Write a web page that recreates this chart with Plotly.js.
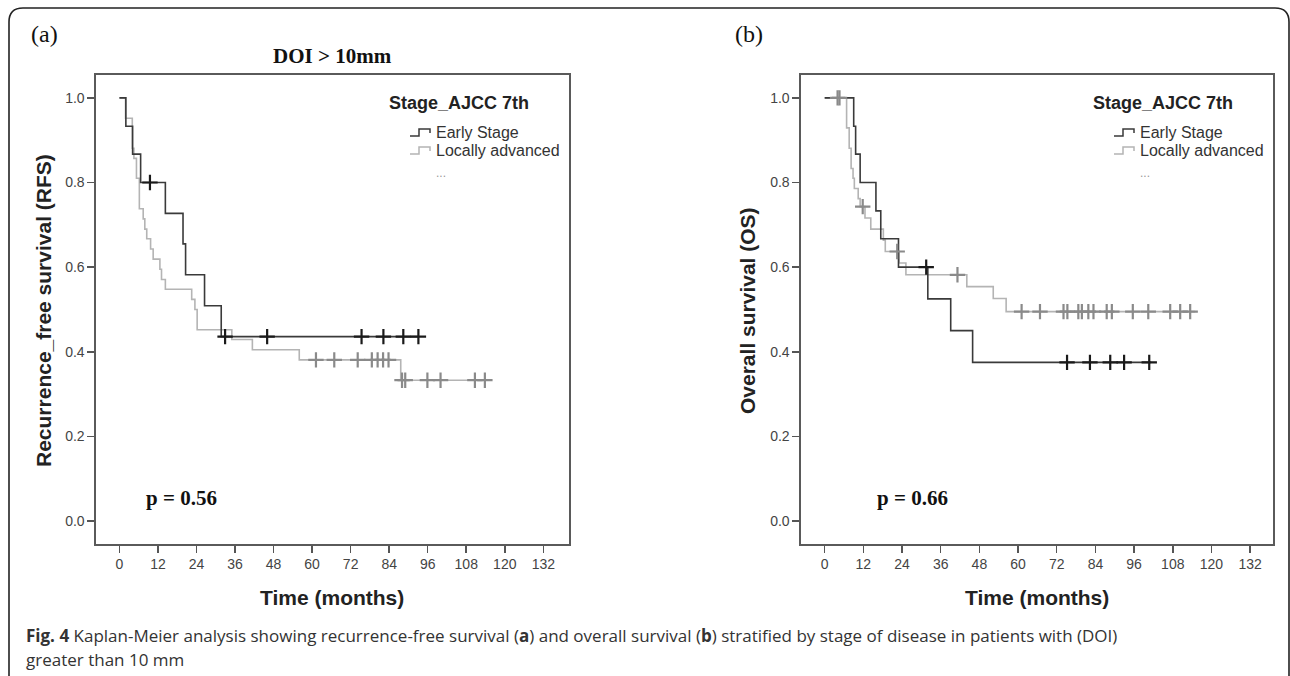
<!DOCTYPE html>
<html>
<head>
<meta charset="utf-8">
<script src="https://cdn.plot.ly/plotly-3.0.1.min.js"></script>
<style>html,body{margin:0;padding:0;background:#fff;}#chart{width:1290px;height:676px;}</style>
</head>
<body>
<div id="chart"></div>
<script>
// ---------- DATA ----------
// (a) Recurrence-free survival
const rfsEarlyTime   = [0, 2.0, 4.1, 6.6, 14.3, 19.8, 20.6, 26.5, 31.7];
const rfsEarlySurv   = [1.0, 0.933, 0.867, 0.800, 0.727, 0.655, 0.582, 0.509, 0.436];
const rfsEarlyEnd    = 93.3;
const rfsEarlyCens   = [9.5, 32.9, 46.0, 75.4, 82.2, 88.4, 93.1];

const rfsLocalTime   = [0, 1.9, 4.0, 4.5, 5.3, 6.2, 7.4, 7.9, 8.5, 9.7, 10.5, 12.6, 13.1, 14.3, 22.5, 23.5, 24.2, 35.0, 41.4, 56.0, 87.6];
const rfsLocalSurv   = [1.0, 0.952, 0.881, 0.857, 0.810, 0.738, 0.714, 0.690, 0.667, 0.643, 0.619, 0.595, 0.571, 0.548, 0.524, 0.500, 0.452, 0.429, 0.405, 0.381, 0.333];
const rfsLocalEnd    = 115.0;
const rfsLocalCens   = [61.2, 66.9, 74.2, 78.6, 80.4, 82.1, 83.8, 88.0, 89.0, 95.9, 100.0, 110.7, 113.8];

// (b) Overall survival
const osEarlyTime    = [0, 9.0, 9.6, 11.0, 15.9, 17.4, 22.9, 32.0, 39.1, 45.9];
const osEarlySurv    = [1.0, 0.933, 0.867, 0.800, 0.733, 0.667, 0.600, 0.525, 0.450, 0.375];
const osEarlyEnd     = 101.3;
const osEarlyCens    = [31.5, 75.2, 82.3, 88.6, 92.9, 100.7];

const osLocalTime    = [0, 6.8, 7.6, 8.2, 8.8, 9.2, 10.4, 11.0, 12.5, 14.3, 18.2, 18.8, 23.1, 25.2, 44.1, 52.3, 56.3];
const osLocalSurv    = [1.0, 0.929, 0.881, 0.833, 0.810, 0.786, 0.762, 0.743, 0.716, 0.690, 0.664, 0.637, 0.610, 0.582, 0.554, 0.526, 0.495];
const osLocalEnd     = 114.9;
const osLocalCens    = [4.0, 4.6, 11.8, 22.5, 41.2, 61.1, 66.8, 74.1, 75.3, 78.7, 79.8, 81.8, 83.4, 87.5, 89.1, 95.6, 100.4, 107.2, 110.3, 113.4];

const xTickVals   = [0, 12, 24, 36, 48, 60, 72, 84, 96, 108, 120, 132];
const yTickVals   = [0.0, 0.2, 0.4, 0.6, 0.8, 1.0];
const groupNames  = ["Early Stage", "Locally advanced"];
const legendTitle = "Stage_AJCC 7th";
const panelLabels = ["(a)", "(b)"];
const pValues     = ["p = 0.56", "p = 0.66"];
const yTitles     = ["Recurrence_free survival (RFS)", "Overall survival (OS)"];
const xTitle      = "Time (months)";
const topTitle    = "DOI > 10mm";

// ---------- helpers ----------
const W = 1290, H = 676;
const px = v => v / W;
const py = v => 1 - v / H;
function survAt(times, surv, t) {
  let s = surv[0];
  for (let i = 0; i < times.length; i++) if (times[i] <= t) s = surv[i];
  return s;
}
const darkLine = '#3a3a3a', lightLine = '#b4b4b4';
const darkCens = '#1a1a1a', lightCens = '#8a8a8a';

function stepTrace(t, s, end, color, xa, ya) {
  return {x: t.concat([end]), y: s.concat([s[s.length-1]]), type: 'scatter', mode: 'lines',
          line: {shape: 'hv', color: color, width: 1.6}, xaxis: xa, yaxis: ya, hoverinfo: 'skip', showlegend: false};
}
function censTrace(c, t, s, color, xa, ya) {
  return {x: c, y: c.map(v => survAt(t, s, v)), type: 'scatter', mode: 'markers',
          marker: {symbol: 'cross-thin', size: 11, line: {width: 2.2, color: color}, color: color},
          xaxis: xa, yaxis: ya, hoverinfo: 'skip', showlegend: false};
}

const data = [
  stepTrace(rfsLocalTime, rfsLocalSurv, rfsLocalEnd, lightLine, 'x', 'y'),
  stepTrace(rfsEarlyTime, rfsEarlySurv, rfsEarlyEnd, darkLine, 'x', 'y'),
  censTrace(rfsLocalCens, rfsLocalTime, rfsLocalSurv, lightCens, 'x', 'y'),
  censTrace(rfsEarlyCens, rfsEarlyTime, rfsEarlySurv, darkCens, 'x', 'y'),
  stepTrace(osLocalTime, osLocalSurv, osLocalEnd, lightLine, 'x2', 'y2'),
  stepTrace(osEarlyTime, osEarlySurv, osEarlyEnd, darkLine, 'x2', 'y2'),
  censTrace(osLocalCens, osLocalTime, osLocalSurv, lightCens, 'x2', 'y2'),
  censTrace(osEarlyCens, osEarlyTime, osEarlySurv, darkCens, 'x2', 'y2')
];

const tickFont = {family: 'Liberation Sans, Arial, sans-serif', size: 14, color: '#444'};
function xAxis(domain, range, anchor) {
  return {domain: domain, range: range, anchor: anchor, tickvals: xTickVals, ticktext: xTickVals.map(String),
          ticks: 'outside', ticklen: 7, tickwidth: 1.5, tickcolor: '#555', showline: true, mirror: true,
          linecolor: '#5a5a5a', linewidth: 1.6, showgrid: false, zeroline: false, tickfont: tickFont, fixedrange: true};
}
function yAxis(range, anchor) {
  return {domain: [py(544), py(75)], range: range, anchor: anchor, tickvals: yTickVals, ticktext: yTickVals.map(v => v.toFixed(1)),
          ticks: 'outside', ticklen: 7, tickwidth: 1.5, tickcolor: '#555', showline: true, mirror: true,
          linecolor: '#5a5a5a', linewidth: 1.6, showgrid: false, zeroline: false, tickfont: tickFont, fixedrange: true};
}

const annotations = [];
const shapes = [];
const panelShift = [0, 704];
const axisTitleFont = {family: 'Liberation Sans, Arial, sans-serif', size: 21, color: '#222'};
const serifBold = {family: 'Liberation Serif, Times New Roman, serif', size: 21, color: '#111'};

function ann(x, y, text, font, extra) {
  annotations.push(Object.assign({xref: 'paper', yref: 'paper', x: px(x), y: py(y), text: text, showarrow: false,
    font: font, xanchor: 'left', yanchor: 'middle'}, extra || {}));
}

for (let k = 0; k < 2; k++) {
  const d = panelShift[k];
  // panel label
  ann(k === 0 ? 29 : 733, 34, panelLabels[k], {family: 'Liberation Serif, Times New Roman, serif', size: 24, color: '#111'});
  // p value
  ann((k === 0 ? 181 : 912), 498, '<b>' + pValues[k] + '</b>', serifBold, {xanchor: 'center'});
  // x title
  ann((k === 0 ? 332 : 1037), 597, '<b>' + xTitle + '</b>', axisTitleFont, {xanchor: 'center'});
  // y title
  ann((k === 0 ? 43 : 747), 311, '<b>' + yTitles[k] + '</b>', axisTitleFont, {xanchor: 'center', textangle: -90});
  // legend
  ann(387 + d, 103, '<b>' + legendTitle + '</b>', {family: 'Liberation Sans, Arial, sans-serif', size: 18, color: '#222'});
  ann(434 + d, 133, groupNames[0], {family: 'Liberation Sans, Arial, sans-serif', size: 16, color: '#333'});
  ann(434 + d, 151, groupNames[1], {family: 'Liberation Sans, Arial, sans-serif', size: 16, color: '#333'});
  ann(434 + d, 173, '...', {family: 'Liberation Sans, Arial, sans-serif', size: 12, color: '#999'});
  const sym = (x0, yb, col) => ({type: 'path', xref: 'paper', yref: 'paper',
    path: `M ${px(x0)} ${py(yb)} L ${px(x0+9)} ${py(yb)} L ${px(x0+9)} ${py(yb-7)} L ${px(x0+20)} ${py(yb-7)} L ${px(x0+20)} ${py(yb-3)}`,
    line: {color: col, width: 1.5}});
  shapes.push(sym(410 + d, 136, darkLine));
  shapes.push(sym(410 + d, 154, lightLine));
}
// top title
ann(332, 56, '<b>' + topTitle + '</b>', serifBold, {xanchor: 'center'});
// caption
const capFont = {family: 'Open Sans, sans-serif', size: 17, color: '#333'};
ann(24, 635, '<b>Fig. 4</b> Kaplan-Meier analysis showing recurrence-free survival (<b>a</b>) and overall survival (<b>b</b>) stratified by stage of disease in patients with (DOI)', capFont);
ann(24, 659, 'greater than 10 mm', capFont);

// outer rounded frame (decorative)
const r = 14;
shapes.push({type: 'path', xref: 'paper', yref: 'paper', line: {color: '#222', width: 1.6},
  path: `M ${px(9)} ${py(676)} L ${px(9)} ${py(8 + r)} Q ${px(9)} ${py(8)} ${px(9 + r)} ${py(8)} L ${px(1289 - r)} ${py(8)} Q ${px(1289)} ${py(8)} ${px(1289)} ${py(8 + r)} L ${px(1289)} ${py(676)}`});

const layout = {
  width: W, height: H, margin: {l: 0, r: 0, t: 0, b: 0}, paper_bgcolor: '#fff', plot_bgcolor: '#fff',
  showlegend: false,
  xaxis: xAxis([px(96), px(569)], [-7.3, 140.0], 'y'),
  yaxis: yAxis([-0.054, 1.054], 'x'),
  xaxis2: xAxis([px(801), px(1273)], [-7.35, 139.1], 'y2'),
  yaxis2: yAxis([-0.054, 1.054], 'x2'),
  annotations: annotations, shapes: shapes
};
Plotly.newPlot('chart', data, layout, {displayModeBar: false, staticPlot: true});
</script>
</body>
</html>
